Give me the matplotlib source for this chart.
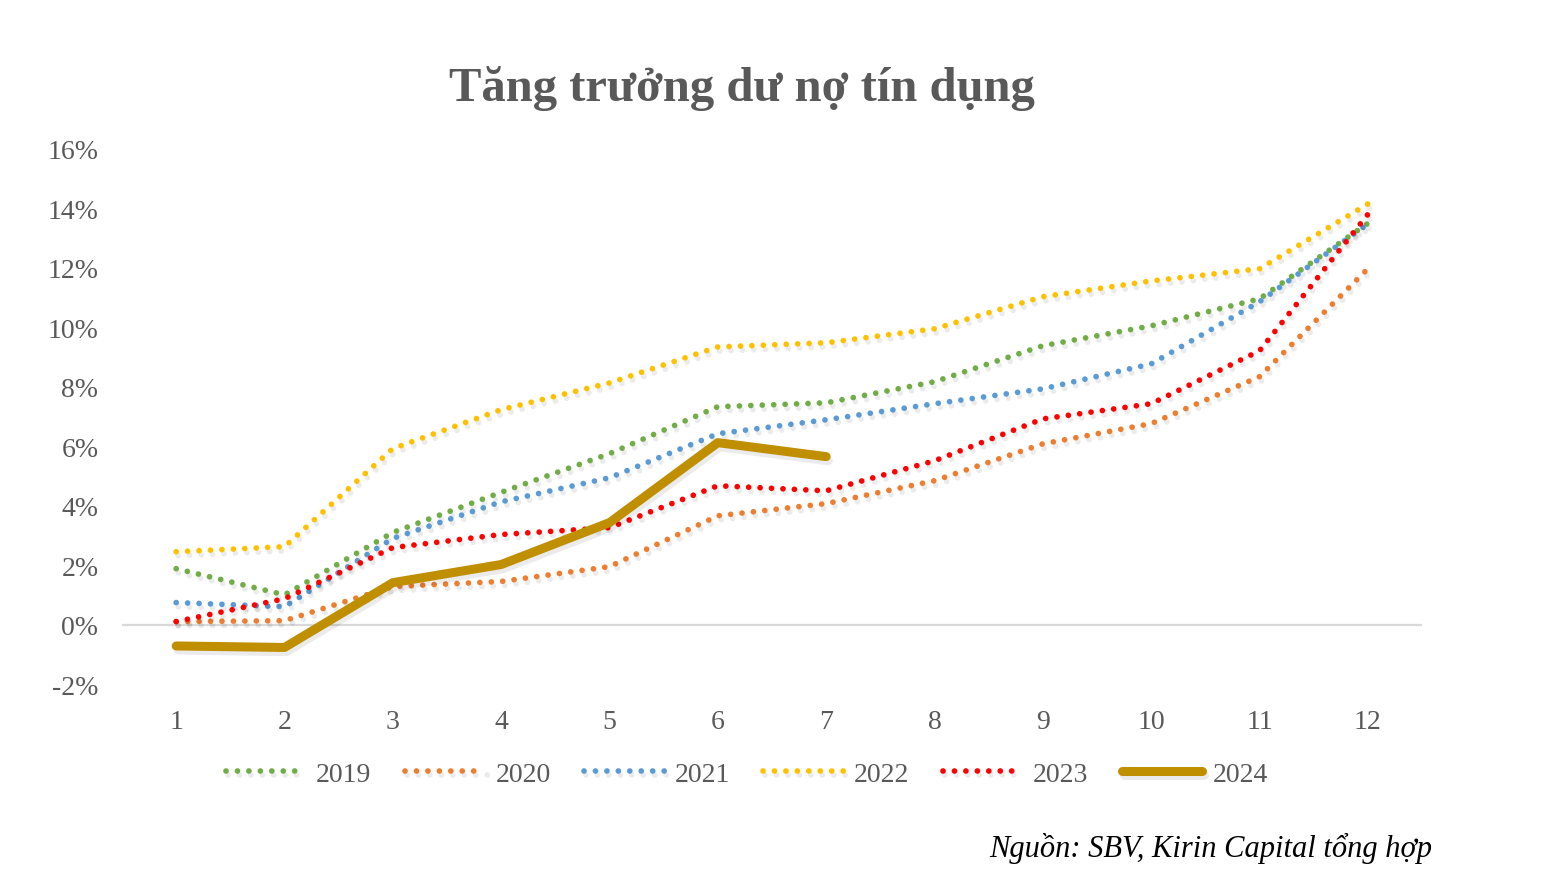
import matplotlib
matplotlib.use("Agg")
import matplotlib.pyplot as plt
import matplotlib.patheffects as pe
from matplotlib.ticker import FuncFormatter

months = [1, 2, 3, 4, 5, 6, 7, 8, 9, 10, 11, 12]
y2019 = [1.88, 1.00, 3.10, 4.45, 5.75, 7.33, 7.46, 8.17, 9.38, 10.05, 10.96, 13.50]
y2020 = [0.10, 0.13, 1.28, 1.45, 1.95, 3.66, 4.07, 4.84, 6.08, 6.76, 8.34, 11.97]
y2021 = [0.74, 0.60, 2.90, 4.13, 4.94, 6.42, 6.89, 7.43, 7.93, 8.77, 10.86, 13.48]
y2022 = [2.45, 2.62, 5.92, 7.23, 8.13, 9.34, 9.48, 9.95, 11.03, 11.56, 11.97, 14.15]
y2023 = [0.10, 0.87, 2.59, 3.03, 3.26, 4.67, 4.50, 5.51, 6.92, 7.43, 9.21, 13.80]
months_2024 = [1, 2, 3, 4, 5, 6, 7]
y2024 = [-0.72, -0.77, 1.41, 2.02, 3.43, 6.12, 5.65]
yticks = [-2, 0, 2, 4, 6, 8, 10, 12, 14, 16]

title = "Tăng trưởng dư nợ tín dụng"
source = "Nguồn: SBV, Kirin Capital tổng hợp"

serif = ["Liberation Serif", "DejaVu Serif"]
txt = "#595959"

fig = plt.figure(figsize=(15.62, 8.78), dpi=100)
ax = fig.add_axes([0.0781, 0.2198, 0.8323, 0.6094])

shadow = [pe.SimpleLineShadow(offset=(1.5, -3), shadow_color="black", alpha=0.08), pe.Normal()]
dot_style = (0, (0.01, 2.0))
series = [
    ("2019", y2019, "#70AD47"),
    ("2020", y2020, "#ED7D31"),
    ("2021", y2021, "#5B9BD5"),
    ("2022", y2022, "#FFC000"),
    ("2023", y2023, "#FF0000"),
]
ax.axhline(0, color="#D9D9D9", lw=1.6, zorder=1)
for name, vals, col in series:
    ax.plot(months, vals, color=col, lw=4.1, linestyle=dot_style,
            dash_capstyle="round", label=name, path_effects=shadow, zorder=3)
ax.plot(months_2024, y2024, color="#BF8F00", lw=6.5, solid_capstyle="round",
        solid_joinstyle="round", label="2024", path_effects=shadow, zorder=4)

ax.set_xlim(0.5, 12.5)
ax.set_ylim(-2, 16)
ax.set_xticks(months)
ax.set_yticks(yticks)
ax.yaxis.set_major_formatter(FuncFormatter(lambda v, p: f"{int(round(v))}%"))
for s in ax.spines.values():
    s.set_visible(False)
ax.tick_params(axis="both", length=0, labelsize=20, labelcolor=txt)
ax.tick_params(axis="x", pad=18)
ax.tick_params(axis="y", pad=17)
for lab in ax.get_xticklabels() + ax.get_yticklabels():
    lab.set_fontfamily(serif)

fig.text(0.475, 0.899, title, ha="center", va="center", fontsize=35,
         fontweight="bold", color=txt, family=serif)

leg = fig.legend(loc="center", bbox_to_anchor=(0.478, 0.117), ncol=6, frameon=False,
                 prop={"family": serif, "size": 20}, handlelength=2.9,
                 columnspacing=1.2, handletextpad=0.36)
for t in leg.get_texts():
    t.set_color(txt)

fig.text(0.917, 0.034, source, ha="right", va="center", fontsize=22,
         fontstyle="italic", color="black", family=serif)

fig.savefig("out.png", dpi=100, facecolor="white")
